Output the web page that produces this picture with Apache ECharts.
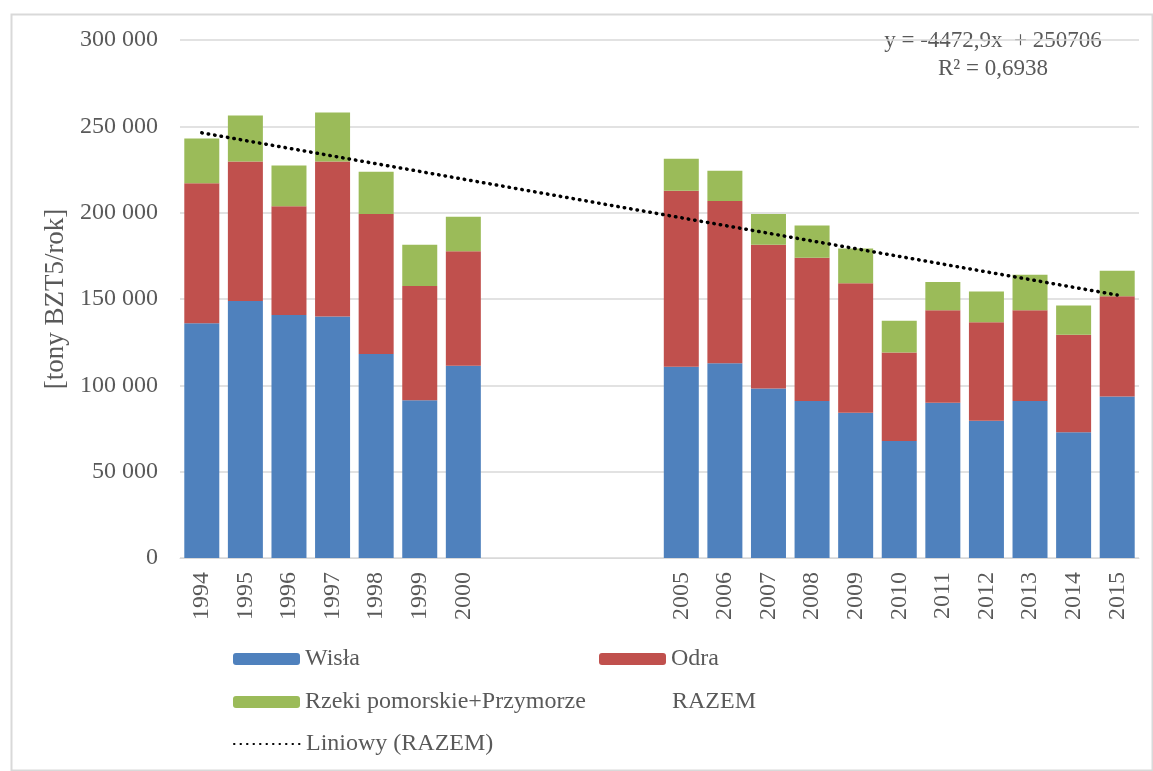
<!DOCTYPE html>
<html>
<head>
<meta charset="utf-8">
<script src="https://cdn.jsdelivr.net/npm/echarts@6/dist/echarts.min.js"></script>
<style>
  html, body { margin: 0; padding: 0; background: #fff; }
  #chart { width: 1153px; height: 771px; }
</style>
</head>
<body>
<div id="chart"></div>
<script>
(function () {

	// lata (2001-2004 bez danych i bez etykiet)
	var years = ['1994', '1995', '1996', '1997', '1998', '1999', '2000',
		'2001', '2002', '2003', '2004',
		'2005', '2006', '2007', '2008', '2009', '2010', '2011', '2012', '2013', '2014', '2015'];
	var gapYears = ['2001', '2002', '2003', '2004'];

	// ładunki BZT5 [tony/rok]
	var wisla = [135900, 148800, 140700, 139800, 118100, 91400, 111300,
		null, null, null, null,
		110800, 112800, 98200, 90900, 84100, 67800, 89900, 79500, 90900, 72900, 93500];
	var odra = [81100, 80900, 63000, 89900, 81100, 66200, 66300,
		null, null, null, null,
		101900, 93900, 83200, 83000, 75000, 51200, 53600, 57100, 52600, 56400, 58100];
	var rzeki = [26000, 26600, 23600, 28300, 24500, 23800, 20100,
		null, null, null, null,
		18500, 17600, 17800, 18700, 20200, 18400, 16300, 17800, 20600, 17000, 14800];
	var razem = [243000, 256300, 227300, 258000, 223700, 181400, 197700,
		null, null, null, null,
		231200, 224300, 199200, 192600, 179300, 137400, 159800, 154400, 164100, 146300, 166400];

	// linia trendu: tylko punkty końcowe (1994 i 2015)
	var trend = [246233, null, null, null, null, null, null, null, null, null, null,
		null, null, null, null, null, null, null, null, null, null, 152302];

	var yTicks = { min: 0, max: 300000, step: 50000 };
	var equation = ['y = -4472,9x  + 250706', 'R² = 0,6938'];

	var serif = '"Liberation Serif", "DejaVu Serif", serif';
	var grey = '#595959';

	var chart = echarts.init(document.getElementById('chart'));

	function legendAt(name, left, top, extra) {
		var item = { name: name };
		if (extra) {
			for (var k in extra) { item[k] = extra[k]; }
		}
		return {
			data: [item],
			left: left,
			top: top,
			padding: 0,
			itemWidth: 67,
			itemHeight: 12,
			selectedMode: false,
			textStyle: { fontFamily: serif, fontSize: 24, color: grey }
		};
	}

	chart.setOption({
		animation: false,
		backgroundColor: '#fff',
		textStyle: { fontFamily: serif },
		grid: { left: 180, right: 14, top: 40, bottom: 213 },
		legend: [
			legendAt('Wisła', 233, 647),
			legendAt('Odra', 599, 647),
			legendAt('Rzeki pomorskie+Przymorze', 233, 690),
			legendAt('RAZEM', 599, 690, { itemStyle: { color: 'rgba(0,0,0,0)', borderWidth: 0 } }),
			legendAt('Liniowy (RAZEM)', 233, 732, { itemStyle: { opacity: 0 } })
		],
		graphic: [{
			type: 'rect',
			left: 9, top: 12,
			shape: { width: 1141, height: 756 },
			style: { fill: 'none', stroke: '#d9d9d9', lineWidth: 2 },
			silent: true
		}, {
			type: 'text',
			x: 993, y: 41,
			style: {
				text: equation[0],
				font: '23px ' + serif,
				fill: grey,
				align: 'center',
				verticalAlign: 'middle'
			}
		}, {
			type: 'text',
			x: 993, y: 69,
			style: {
				text: equation[1],
				font: '23px ' + serif,
				fill: grey,
				align: 'center',
				verticalAlign: 'middle'
			}
		}],
		xAxis: {
			type: 'category',
			data: years,
			axisTick: { show: false },
			axisLine: { lineStyle: { color: '#d9d9d9', width: 1 } },
			axisLabel: {
				interval: 0,
				rotate: 90,
				margin: 14,
				fontFamily: serif,
				fontSize: 24,
				color: grey,
				formatter: function (v) {
					return gapYears.indexOf(v) >= 0 ? '' : v;
				}
			}
		},
		yAxis: {
			type: 'value',
			min: yTicks.min,
			max: yTicks.max,
			interval: yTicks.step,
			name: '[tony BZT5/rok]',
			nameLocation: 'middle',
			nameGap: 108,
			nameTextStyle: { fontFamily: serif, fontSize: 27, color: grey },
			axisLine: { show: false },
			axisTick: { show: false },
			splitLine: { lineStyle: { color: '#d9d9d9', width: 1.5 } },
			axisLabel: {
				margin: 22,
				fontFamily: serif,
				fontSize: 24,
				color: grey,
				formatter: function (v) {
					return String(v).replace(/\B(?=(\d{3})+(?!\d))/g, ' ');
				}
			}
		},
		series: [{
			name: 'Wisła',
			type: 'bar',
			stack: 'suma',
			barWidth: 35,
			data: wisla,
			itemStyle: { color: '#4f81bd' }
		}, {
			name: 'Odra',
			type: 'bar',
			stack: 'suma',
			barWidth: 35,
			data: odra,
			itemStyle: { color: '#c0504d' }
		}, {
			name: 'Rzeki pomorskie+Przymorze',
			type: 'bar',
			stack: 'suma',
			barWidth: 35,
			data: rzeki,
			itemStyle: { color: '#9bbb59' }
		}, {
			name: 'RAZEM',
			type: 'line',
			data: razem,
			symbol: 'none',
			silent: true,
			itemStyle: { color: 'rgba(0,0,0,0)' },
			lineStyle: { opacity: 0 }
		}, {
			name: 'Liniowy (RAZEM)',
			type: 'line',
			data: trend,
			connectNulls: true,
			symbol: 'none',
			silent: true,
			z: 5,
			itemStyle: { color: '#000' },
			lineStyle: { color: '#000', width: 3.5, type: [0.5, 6], cap: 'round' }
		}]
	});
})();
</script>
</body>
</html>
